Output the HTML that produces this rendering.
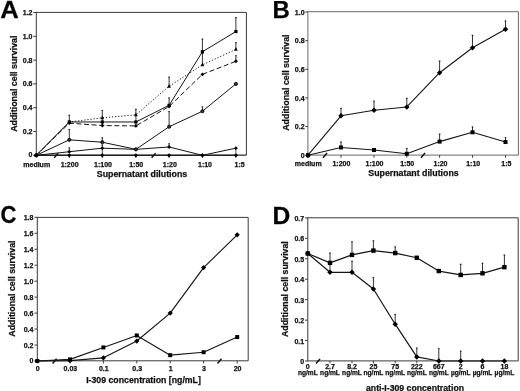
<!DOCTYPE html>
<html><head><meta charset="utf-8"><style>
html,body{margin:0;padding:0;background:#fff;}
body{width:520px;height:391px;overflow:hidden;}
svg{display:block;will-change:transform;}
text{font-family:'Liberation Sans',sans-serif;font-weight:bold;stroke:#111;stroke-width:0.25px;}
</style></head><body>
<svg width="520" height="391" viewBox="0 0 520 391">
<defs><filter id="bl" x="0" y="0" width="1" height="1"><feGaussianBlur stdDeviation="0.3"/></filter></defs>
<rect width="520" height="391" fill="#fff"/>
<g filter="url(#bl)">
<rect width="520" height="391" fill="#fff"/>
<line x1="36.30" y1="12.40" x2="246.40" y2="12.40" stroke="#3a3a3a" stroke-width="1.0"/>
<line x1="246.40" y1="12.40" x2="246.40" y2="155.20" stroke="#3a3a3a" stroke-width="1.0"/>
<line x1="36.30" y1="11.90" x2="36.30" y2="155.70" stroke="#3a3a3a" stroke-width="1.0"/>
<line x1="36.30" y1="155.20" x2="246.40" y2="155.20" stroke="#2a2a2a" stroke-width="1.3"/>
<line x1="235.90" y1="147.80" x2="235.90" y2="155.00" stroke="#333" stroke-width="0.8"/>
<line x1="102.30" y1="117.81" x2="102.30" y2="125.55" stroke="#222" stroke-width="0.85"/>
<line x1="135.90" y1="114.84" x2="135.90" y2="125.91" stroke="#222" stroke-width="0.85"/>
<line x1="102.30" y1="148.16" x2="102.30" y2="155.30" stroke="#222" stroke-width="0.85"/>
<line x1="33.30" y1="155.30" x2="36.30" y2="155.30" stroke="#3a3a3a" stroke-width="1"/>
<text x="32.50" y="157.20" font-size="7" text-anchor="end" fill="#111">0</text>
<line x1="33.30" y1="131.50" x2="36.30" y2="131.50" stroke="#3a3a3a" stroke-width="1"/>
<text x="32.50" y="134.00" font-size="7" text-anchor="end" fill="#111">0.2</text>
<line x1="33.30" y1="107.70" x2="36.30" y2="107.70" stroke="#3a3a3a" stroke-width="1"/>
<text x="32.50" y="110.20" font-size="7" text-anchor="end" fill="#111">0.4</text>
<line x1="33.30" y1="83.90" x2="36.30" y2="83.90" stroke="#3a3a3a" stroke-width="1"/>
<text x="32.50" y="86.40" font-size="7" text-anchor="end" fill="#111">0.6</text>
<line x1="33.30" y1="60.10" x2="36.30" y2="60.10" stroke="#3a3a3a" stroke-width="1"/>
<text x="32.50" y="62.60" font-size="7" text-anchor="end" fill="#111">0.8</text>
<line x1="33.30" y1="36.30" x2="36.30" y2="36.30" stroke="#3a3a3a" stroke-width="1"/>
<text x="32.50" y="38.80" font-size="7" text-anchor="end" fill="#111">1.0</text>
<line x1="33.30" y1="12.50" x2="36.30" y2="12.50" stroke="#3a3a3a" stroke-width="1"/>
<text x="32.50" y="15.00" font-size="7" text-anchor="end" fill="#111">1.2</text>
<text x="36.70" y="166.60" font-size="7" text-anchor="middle" fill="#111">medium</text>
<line x1="69.30" y1="155.20" x2="69.30" y2="157.80" stroke="#3a3a3a" stroke-width="1"/>
<text x="69.60" y="166.60" font-size="7" text-anchor="middle" fill="#111">1:200</text>
<line x1="102.30" y1="155.20" x2="102.30" y2="157.80" stroke="#3a3a3a" stroke-width="1"/>
<text x="103.00" y="166.60" font-size="7" text-anchor="middle" fill="#111">1:100</text>
<line x1="135.90" y1="155.20" x2="135.90" y2="157.80" stroke="#3a3a3a" stroke-width="1"/>
<text x="136.20" y="166.60" font-size="7" text-anchor="middle" fill="#111">1:50</text>
<line x1="169.10" y1="155.20" x2="169.10" y2="157.80" stroke="#3a3a3a" stroke-width="1"/>
<text x="169.80" y="166.60" font-size="7" text-anchor="middle" fill="#111">1:20</text>
<line x1="202.40" y1="155.20" x2="202.40" y2="157.80" stroke="#3a3a3a" stroke-width="1"/>
<text x="205.00" y="166.60" font-size="7" text-anchor="middle" fill="#111">1:10</text>
<line x1="235.90" y1="155.20" x2="235.90" y2="157.80" stroke="#3a3a3a" stroke-width="1"/>
<text x="239.60" y="166.60" font-size="7" text-anchor="middle" fill="#111">1:5</text>
<line x1="54.20" y1="157.80" x2="58.20" y2="153.20" stroke="#111" stroke-width="1.5"/>
<line x1="151.60" y1="157.80" x2="155.60" y2="153.20" stroke="#111" stroke-width="1.5"/>
<text x="142.00" y="177.40" font-size="8.8" text-anchor="middle" fill="#111">Supernatant dilutions</text>
<text x="17.10" y="83.70" font-size="8.85" text-anchor="middle" fill="#111" transform="rotate(-90 17.10 83.70)">Additional cell survival</text>
<polyline points="36.30,155.30 69.30,151.73 102.30,148.16 135.90,149.35 169.10,146.97 202.40,155.30 235.90,148.16" fill="none" stroke="#161616" stroke-width="1.0" stroke-linejoin="round"/>
<line x1="69.30" y1="151.73" x2="69.30" y2="147.56" stroke="#111" stroke-width="0.85"/>
<line x1="68.40" y1="147.97" x2="70.20" y2="147.97" stroke="#111" stroke-width="0.8"/>
<line x1="102.30" y1="148.16" x2="102.30" y2="144.59" stroke="#111" stroke-width="0.85"/>
<line x1="101.40" y1="144.99" x2="103.20" y2="144.99" stroke="#111" stroke-width="0.8"/>
<line x1="169.10" y1="146.97" x2="169.10" y2="143.40" stroke="#111" stroke-width="0.85"/>
<line x1="168.20" y1="143.80" x2="170.00" y2="143.80" stroke="#111" stroke-width="0.8"/>
<path d="M36.30 153.35L38.25 155.30L36.30 157.25L34.35 155.30Z" fill="#000"/>
<path d="M69.30 149.78L71.25 151.73L69.30 153.68L67.35 151.73Z" fill="#000"/>
<path d="M102.30 146.21L104.25 148.16L102.30 150.11L100.35 148.16Z" fill="#000"/>
<path d="M135.90 147.40L137.85 149.35L135.90 151.30L133.95 149.35Z" fill="#000"/>
<path d="M169.10 145.02L171.05 146.97L169.10 148.92L167.15 146.97Z" fill="#000"/>
<path d="M202.40 153.35L204.35 155.30L202.40 157.25L200.45 155.30Z" fill="#000"/>
<path d="M235.90 146.21L237.85 148.16L235.90 150.11L233.95 148.16Z" fill="#000"/>
<polyline points="36.30,155.30 69.30,155.30 102.30,155.30 135.90,155.30 169.10,155.30 202.40,155.30 235.90,155.30" fill="none" stroke="#161616" stroke-width="1.0" stroke-linejoin="round"/>
<path d="M36.30 153.22L38.38 155.30L36.30 157.38L34.22 155.30Z" fill="#000"/>
<path d="M69.30 153.22L71.38 155.30L69.30 157.38L67.22 155.30Z" fill="#000"/>
<path d="M102.30 153.22L104.38 155.30L102.30 157.38L100.22 155.30Z" fill="#000"/>
<path d="M135.90 153.22L137.98 155.30L135.90 157.38L133.82 155.30Z" fill="#000"/>
<path d="M169.10 153.22L171.18 155.30L169.10 157.38L167.02 155.30Z" fill="#000"/>
<path d="M202.40 153.22L204.48 155.30L202.40 157.38L200.32 155.30Z" fill="#000"/>
<path d="M235.90 153.22L237.98 155.30L235.90 157.38L233.82 155.30Z" fill="#000"/>
<polyline points="36.30,155.30 69.30,139.83 102.30,142.21 135.90,149.35 169.10,126.74 202.40,111.27 235.90,83.90" fill="none" stroke="#161616" stroke-width="1.0" stroke-linejoin="round"/>
<line x1="69.30" y1="139.83" x2="69.30" y2="129.12" stroke="#111" stroke-width="0.85"/>
<line x1="68.40" y1="129.52" x2="70.20" y2="129.52" stroke="#111" stroke-width="0.8"/>
<line x1="102.30" y1="142.21" x2="102.30" y2="137.45" stroke="#111" stroke-width="0.85"/>
<line x1="101.40" y1="137.85" x2="103.20" y2="137.85" stroke="#111" stroke-width="0.8"/>
<line x1="169.10" y1="126.74" x2="169.10" y2="111.27" stroke="#111" stroke-width="0.85"/>
<line x1="168.20" y1="111.67" x2="170.00" y2="111.67" stroke="#111" stroke-width="0.8"/>
<line x1="202.40" y1="111.27" x2="202.40" y2="106.51" stroke="#111" stroke-width="0.85"/>
<line x1="201.50" y1="106.91" x2="203.30" y2="106.91" stroke="#111" stroke-width="0.8"/>
<circle cx="36.30" cy="155.30" r="1.60" fill="#333" stroke="#000" stroke-width="0.8"/>
<circle cx="69.30" cy="139.83" r="1.60" fill="#333" stroke="#000" stroke-width="0.8"/>
<circle cx="102.30" cy="142.21" r="1.60" fill="#333" stroke="#000" stroke-width="0.8"/>
<circle cx="135.90" cy="149.35" r="1.60" fill="#333" stroke="#000" stroke-width="0.8"/>
<circle cx="169.10" cy="126.74" r="1.60" fill="#333" stroke="#000" stroke-width="0.8"/>
<circle cx="202.40" cy="111.27" r="1.60" fill="#333" stroke="#000" stroke-width="0.8"/>
<circle cx="235.90" cy="83.90" r="1.60" fill="#333" stroke="#000" stroke-width="0.8"/>
<polyline points="36.30,155.30 69.30,123.17 102.30,125.55 135.90,125.91 169.10,106.51 202.40,74.38 235.90,61.29" fill="none" stroke="#161616" stroke-width="1.0" stroke-dasharray="5,2.6" stroke-linejoin="round"/>
<line x1="235.90" y1="61.29" x2="235.90" y2="55.34" stroke="#111" stroke-width="0.85"/>
<line x1="235.00" y1="55.74" x2="236.80" y2="55.74" stroke="#111" stroke-width="0.8"/>
<path d="M36.30 153.35L38.25 155.30L36.30 157.25L34.35 155.30Z" fill="#000"/>
<path d="M69.30 121.22L71.25 123.17L69.30 125.12L67.35 123.17Z" fill="#000"/>
<path d="M102.30 123.60L104.25 125.55L102.30 127.50L100.35 125.55Z" fill="#000"/>
<path d="M135.90 123.96L137.85 125.91L135.90 127.86L133.95 125.91Z" fill="#000"/>
<path d="M169.10 104.56L171.05 106.51L169.10 108.46L167.15 106.51Z" fill="#000"/>
<path d="M202.40 72.43L204.35 74.38L202.40 76.33L200.45 74.38Z" fill="#000"/>
<path d="M235.90 59.34L237.85 61.29L235.90 63.24L233.95 61.29Z" fill="#000"/>
<polyline points="36.30,155.30 69.30,121.98 102.30,117.81 135.90,114.84 169.10,86.28 202.40,64.86 235.90,49.39" fill="none" stroke="#161616" stroke-width="1.0" stroke-dasharray="1.2,1.9" stroke-linejoin="round"/>
<line x1="102.30" y1="117.81" x2="102.30" y2="110.08" stroke="#111" stroke-width="0.85"/>
<line x1="101.40" y1="110.48" x2="103.20" y2="110.48" stroke="#111" stroke-width="0.8"/>
<line x1="135.90" y1="114.84" x2="135.90" y2="108.89" stroke="#111" stroke-width="0.85"/>
<line x1="135.00" y1="109.29" x2="136.80" y2="109.29" stroke="#111" stroke-width="0.8"/>
<line x1="169.10" y1="86.28" x2="169.10" y2="76.76" stroke="#111" stroke-width="0.85"/>
<line x1="168.20" y1="77.16" x2="170.00" y2="77.16" stroke="#111" stroke-width="0.8"/>
<line x1="202.40" y1="64.86" x2="202.40" y2="52.96" stroke="#111" stroke-width="0.85"/>
<line x1="201.50" y1="53.36" x2="203.30" y2="53.36" stroke="#111" stroke-width="0.8"/>
<line x1="235.90" y1="49.39" x2="235.90" y2="42.25" stroke="#111" stroke-width="0.85"/>
<line x1="235.00" y1="42.65" x2="236.80" y2="42.65" stroke="#111" stroke-width="0.8"/>
<path d="M36.30 153.06L38.14 156.66L34.46 156.66Z" fill="#000"/>
<path d="M69.30 119.74L71.14 123.34L67.46 123.34Z" fill="#000"/>
<path d="M102.30 115.58L104.14 119.17L100.46 119.17Z" fill="#000"/>
<path d="M135.90 112.60L137.74 116.20L134.06 116.20Z" fill="#000"/>
<path d="M169.10 84.04L170.94 87.64L167.26 87.64Z" fill="#000"/>
<path d="M202.40 62.62L204.24 66.22L200.56 66.22Z" fill="#000"/>
<path d="M235.90 47.15L237.74 50.75L234.06 50.75Z" fill="#000"/>
<polyline points="36.30,155.30 69.30,121.98 102.30,121.98 135.90,121.98 169.10,105.32 202.40,51.77 235.90,31.54" fill="none" stroke="#161616" stroke-width="1.0" stroke-linejoin="round"/>
<line x1="69.30" y1="121.98" x2="69.30" y2="114.84" stroke="#111" stroke-width="0.85"/>
<line x1="68.40" y1="115.24" x2="70.20" y2="115.24" stroke="#111" stroke-width="0.8"/>
<line x1="169.10" y1="105.32" x2="169.10" y2="97.59" stroke="#111" stroke-width="0.85"/>
<line x1="168.20" y1="97.99" x2="170.00" y2="97.99" stroke="#111" stroke-width="0.8"/>
<line x1="202.40" y1="51.77" x2="202.40" y2="38.68" stroke="#111" stroke-width="0.85"/>
<line x1="201.50" y1="39.08" x2="203.30" y2="39.08" stroke="#111" stroke-width="0.8"/>
<line x1="235.90" y1="31.54" x2="235.90" y2="17.26" stroke="#111" stroke-width="0.85"/>
<line x1="235.00" y1="17.66" x2="236.80" y2="17.66" stroke="#111" stroke-width="0.8"/>
<rect x="34.70" y="153.70" width="3.20" height="3.20" fill="#000"/>
<rect x="67.70" y="120.38" width="3.20" height="3.20" fill="#000"/>
<rect x="100.70" y="120.38" width="3.20" height="3.20" fill="#000"/>
<rect x="134.30" y="120.38" width="3.20" height="3.20" fill="#000"/>
<rect x="167.50" y="103.72" width="3.20" height="3.20" fill="#000"/>
<rect x="200.80" y="50.17" width="3.20" height="3.20" fill="#000"/>
<rect x="234.30" y="29.94" width="3.20" height="3.20" fill="#000"/>
<line x1="307.90" y1="11.70" x2="518.40" y2="11.70" stroke="#6a6a6a" stroke-width="1.0"/>
<line x1="518.40" y1="11.70" x2="518.40" y2="155.10" stroke="#6a6a6a" stroke-width="1.0"/>
<line x1="307.90" y1="11.20" x2="307.90" y2="155.60" stroke="#6a6a6a" stroke-width="1.0"/>
<line x1="307.90" y1="155.10" x2="518.40" y2="155.10" stroke="#6a6a6a" stroke-width="1.0"/>
<line x1="305.30" y1="155.20" x2="307.90" y2="155.20" stroke="#3a3a3a" stroke-width="1"/>
<text x="304.60" y="157.80" font-size="7" text-anchor="end" fill="#111">0</text>
<line x1="305.30" y1="126.56" x2="307.90" y2="126.56" stroke="#3a3a3a" stroke-width="1"/>
<text x="304.60" y="129.16" font-size="7" text-anchor="end" fill="#111">0.2</text>
<line x1="305.30" y1="97.92" x2="307.90" y2="97.92" stroke="#3a3a3a" stroke-width="1"/>
<text x="304.60" y="100.52" font-size="7" text-anchor="end" fill="#111">0.4</text>
<line x1="305.30" y1="69.28" x2="307.90" y2="69.28" stroke="#3a3a3a" stroke-width="1"/>
<text x="304.60" y="71.88" font-size="7" text-anchor="end" fill="#111">0.6</text>
<line x1="305.30" y1="40.64" x2="307.90" y2="40.64" stroke="#3a3a3a" stroke-width="1"/>
<text x="304.60" y="43.24" font-size="7" text-anchor="end" fill="#111">0.8</text>
<line x1="305.30" y1="12.00" x2="307.90" y2="12.00" stroke="#3a3a3a" stroke-width="1"/>
<text x="304.60" y="14.60" font-size="7" text-anchor="end" fill="#111">1.0</text>
<line x1="308.00" y1="155.10" x2="308.00" y2="157.70" stroke="#3a3a3a" stroke-width="1"/>
<text x="308.20" y="165.90" font-size="7" text-anchor="middle" fill="#111">medium</text>
<line x1="341.00" y1="155.10" x2="341.00" y2="157.70" stroke="#3a3a3a" stroke-width="1"/>
<text x="341.40" y="165.90" font-size="7" text-anchor="middle" fill="#111">1:200</text>
<line x1="374.00" y1="155.10" x2="374.00" y2="157.70" stroke="#3a3a3a" stroke-width="1"/>
<text x="374.50" y="165.90" font-size="7" text-anchor="middle" fill="#111">1:100</text>
<line x1="406.80" y1="155.10" x2="406.80" y2="157.70" stroke="#3a3a3a" stroke-width="1"/>
<text x="407.20" y="165.90" font-size="7" text-anchor="middle" fill="#111">1:50</text>
<line x1="439.60" y1="155.10" x2="439.60" y2="157.70" stroke="#3a3a3a" stroke-width="1"/>
<text x="440.50" y="165.90" font-size="7" text-anchor="middle" fill="#111">1:20</text>
<line x1="472.50" y1="155.10" x2="472.50" y2="157.70" stroke="#3a3a3a" stroke-width="1"/>
<text x="473.20" y="165.90" font-size="7" text-anchor="middle" fill="#111">1:10</text>
<line x1="505.50" y1="155.10" x2="505.50" y2="157.70" stroke="#3a3a3a" stroke-width="1"/>
<text x="506.40" y="165.90" font-size="7" text-anchor="middle" fill="#111">1:5</text>
<line x1="323.00" y1="157.70" x2="327.00" y2="153.10" stroke="#111" stroke-width="1.5"/>
<line x1="421.00" y1="157.70" x2="425.00" y2="153.10" stroke="#111" stroke-width="1.5"/>
<text x="413.50" y="175.60" font-size="8.8" text-anchor="middle" fill="#111">Supernatant dilutions</text>
<text x="288.60" y="82.60" font-size="8.85" text-anchor="middle" fill="#111" transform="rotate(-90 288.60 82.60)">Additional cell survival</text>
<polyline points="308.00,155.20 341.00,147.47 374.00,150.04 406.80,153.77 439.60,141.60 472.50,132.29 505.50,142.03" fill="none" stroke="#161616" stroke-width="1.1" stroke-linejoin="round"/>
<line x1="341.00" y1="147.47" x2="341.00" y2="141.60" stroke="#111" stroke-width="0.85"/>
<line x1="340.10" y1="142.00" x2="341.90" y2="142.00" stroke="#111" stroke-width="0.8"/>
<line x1="406.80" y1="153.77" x2="406.80" y2="148.04" stroke="#111" stroke-width="0.85"/>
<line x1="405.90" y1="148.44" x2="407.70" y2="148.44" stroke="#111" stroke-width="0.8"/>
<line x1="439.60" y1="141.60" x2="439.60" y2="133.72" stroke="#111" stroke-width="0.85"/>
<line x1="438.70" y1="134.12" x2="440.50" y2="134.12" stroke="#111" stroke-width="0.8"/>
<line x1="472.50" y1="132.29" x2="472.50" y2="126.56" stroke="#111" stroke-width="0.85"/>
<line x1="471.60" y1="126.96" x2="473.40" y2="126.96" stroke="#111" stroke-width="0.8"/>
<line x1="505.50" y1="142.03" x2="505.50" y2="137.30" stroke="#111" stroke-width="0.85"/>
<line x1="504.60" y1="137.70" x2="506.40" y2="137.70" stroke="#111" stroke-width="0.8"/>
<rect x="306.00" y="153.20" width="4.00" height="4.00" fill="#000"/>
<rect x="339.00" y="145.47" width="4.00" height="4.00" fill="#000"/>
<rect x="372.00" y="148.04" width="4.00" height="4.00" fill="#000"/>
<rect x="404.80" y="151.77" width="4.00" height="4.00" fill="#000"/>
<rect x="437.60" y="139.60" width="4.00" height="4.00" fill="#000"/>
<rect x="470.50" y="130.29" width="4.00" height="4.00" fill="#000"/>
<rect x="503.50" y="140.03" width="4.00" height="4.00" fill="#000"/>
<polyline points="308.00,155.20 341.00,115.82 374.00,110.24 406.80,106.94 439.60,72.72 472.50,47.80 505.50,29.18" fill="none" stroke="#161616" stroke-width="1.1" stroke-linejoin="round"/>
<line x1="341.00" y1="115.82" x2="341.00" y2="107.94" stroke="#111" stroke-width="0.85"/>
<line x1="340.10" y1="108.34" x2="341.90" y2="108.34" stroke="#111" stroke-width="0.8"/>
<line x1="374.00" y1="110.24" x2="374.00" y2="100.78" stroke="#111" stroke-width="0.85"/>
<line x1="373.10" y1="101.18" x2="374.90" y2="101.18" stroke="#111" stroke-width="0.8"/>
<line x1="406.80" y1="106.94" x2="406.80" y2="97.92" stroke="#111" stroke-width="0.85"/>
<line x1="405.90" y1="98.32" x2="407.70" y2="98.32" stroke="#111" stroke-width="0.8"/>
<line x1="439.60" y1="72.72" x2="439.60" y2="60.69" stroke="#111" stroke-width="0.85"/>
<line x1="438.70" y1="61.09" x2="440.50" y2="61.09" stroke="#111" stroke-width="0.8"/>
<line x1="472.50" y1="47.80" x2="472.50" y2="34.91" stroke="#111" stroke-width="0.85"/>
<line x1="471.60" y1="35.31" x2="473.40" y2="35.31" stroke="#111" stroke-width="0.8"/>
<line x1="505.50" y1="29.18" x2="505.50" y2="20.59" stroke="#111" stroke-width="0.85"/>
<line x1="504.60" y1="20.99" x2="506.40" y2="20.99" stroke="#111" stroke-width="0.8"/>
<path d="M308.00 152.47L310.73 155.20L308.00 157.93L305.27 155.20Z" fill="#000"/>
<path d="M341.00 113.09L343.73 115.82L341.00 118.55L338.27 115.82Z" fill="#000"/>
<path d="M374.00 107.51L376.73 110.24L374.00 112.97L371.27 110.24Z" fill="#000"/>
<path d="M406.80 104.21L409.53 106.94L406.80 109.67L404.07 106.94Z" fill="#000"/>
<path d="M439.60 69.99L442.33 72.72L439.60 75.45L436.87 72.72Z" fill="#000"/>
<path d="M472.50 45.07L475.23 47.80L472.50 50.53L469.77 47.80Z" fill="#000"/>
<path d="M505.50 26.45L508.23 29.18L505.50 31.91L502.77 29.18Z" fill="#000"/>
<line x1="37.30" y1="217.40" x2="248.20" y2="217.40" stroke="#3a3a3a" stroke-width="1.0"/>
<line x1="248.20" y1="217.40" x2="248.20" y2="360.80" stroke="#3a3a3a" stroke-width="1.0"/>
<line x1="37.30" y1="216.90" x2="37.30" y2="361.30" stroke="#3a3a3a" stroke-width="1.0"/>
<line x1="37.30" y1="360.80" x2="248.20" y2="360.80" stroke="#3a3a3a" stroke-width="1.0"/>
<line x1="34.50" y1="361.00" x2="37.30" y2="361.00" stroke="#3a3a3a" stroke-width="1"/>
<text x="33.40" y="363.10" font-size="7" text-anchor="end" fill="#111">0</text>
<line x1="34.50" y1="345.03" x2="37.30" y2="345.03" stroke="#3a3a3a" stroke-width="1"/>
<text x="33.40" y="347.73" font-size="7" text-anchor="end" fill="#111">0.2</text>
<line x1="34.50" y1="329.07" x2="37.30" y2="329.07" stroke="#3a3a3a" stroke-width="1"/>
<text x="33.40" y="331.77" font-size="7" text-anchor="end" fill="#111">0.4</text>
<line x1="34.50" y1="313.10" x2="37.30" y2="313.10" stroke="#3a3a3a" stroke-width="1"/>
<text x="33.40" y="315.80" font-size="7" text-anchor="end" fill="#111">0.6</text>
<line x1="34.50" y1="297.13" x2="37.30" y2="297.13" stroke="#3a3a3a" stroke-width="1"/>
<text x="33.40" y="299.83" font-size="7" text-anchor="end" fill="#111">0.8</text>
<line x1="34.50" y1="281.17" x2="37.30" y2="281.17" stroke="#3a3a3a" stroke-width="1"/>
<text x="33.40" y="283.87" font-size="7" text-anchor="end" fill="#111">1.0</text>
<line x1="34.50" y1="265.20" x2="37.30" y2="265.20" stroke="#3a3a3a" stroke-width="1"/>
<text x="33.40" y="267.90" font-size="7" text-anchor="end" fill="#111">1.2</text>
<line x1="34.50" y1="249.23" x2="37.30" y2="249.23" stroke="#3a3a3a" stroke-width="1"/>
<text x="33.40" y="251.93" font-size="7" text-anchor="end" fill="#111">1.4</text>
<line x1="34.50" y1="233.27" x2="37.30" y2="233.27" stroke="#3a3a3a" stroke-width="1"/>
<text x="33.40" y="235.97" font-size="7" text-anchor="end" fill="#111">1.6</text>
<line x1="34.50" y1="217.30" x2="37.30" y2="217.30" stroke="#3a3a3a" stroke-width="1"/>
<text x="33.40" y="220.00" font-size="7" text-anchor="end" fill="#111">1.8</text>
<text x="37.70" y="371.10" font-size="7" text-anchor="middle" fill="#111">0</text>
<line x1="70.00" y1="360.80" x2="70.00" y2="363.40" stroke="#3a3a3a" stroke-width="1"/>
<text x="70.40" y="371.10" font-size="7" text-anchor="middle" fill="#111">0.03</text>
<line x1="103.40" y1="360.80" x2="103.40" y2="363.40" stroke="#3a3a3a" stroke-width="1"/>
<text x="103.80" y="371.10" font-size="7" text-anchor="middle" fill="#111">0.1</text>
<line x1="136.80" y1="360.80" x2="136.80" y2="363.40" stroke="#3a3a3a" stroke-width="1"/>
<text x="137.20" y="371.10" font-size="7" text-anchor="middle" fill="#111">0.3</text>
<line x1="170.20" y1="360.80" x2="170.20" y2="363.40" stroke="#3a3a3a" stroke-width="1"/>
<text x="170.60" y="371.10" font-size="7" text-anchor="middle" fill="#111">1</text>
<line x1="203.60" y1="360.80" x2="203.60" y2="363.40" stroke="#3a3a3a" stroke-width="1"/>
<text x="204.00" y="371.10" font-size="7" text-anchor="middle" fill="#111">3</text>
<line x1="237.20" y1="360.80" x2="237.20" y2="363.40" stroke="#3a3a3a" stroke-width="1"/>
<text x="237.60" y="371.10" font-size="7" text-anchor="middle" fill="#111">20</text>
<line x1="52.60" y1="363.40" x2="56.60" y2="358.80" stroke="#111" stroke-width="1.5"/>
<line x1="217.50" y1="363.40" x2="221.50" y2="358.80" stroke="#111" stroke-width="1.5"/>
<text x="143.50" y="383.20" font-size="8.75" text-anchor="middle" fill="#111">I-309 concentration [ng/mL]</text>
<text x="15.00" y="288.60" font-size="8.85" text-anchor="middle" fill="#111" transform="rotate(-90 15.00 288.60)">Additional cell survival</text>
<polyline points="37.30,361.00 70.00,359.40 103.40,347.43 136.80,335.45 170.20,355.17 203.60,352.22 237.20,337.05" fill="none" stroke="#161616" stroke-width="1.15" stroke-linejoin="round"/>
<rect x="35.30" y="359.00" width="4.00" height="4.00" fill="#000"/>
<rect x="68.00" y="357.40" width="4.00" height="4.00" fill="#000"/>
<rect x="101.40" y="345.43" width="4.00" height="4.00" fill="#000"/>
<rect x="134.80" y="333.45" width="4.00" height="4.00" fill="#000"/>
<rect x="168.20" y="353.17" width="4.00" height="4.00" fill="#000"/>
<rect x="201.60" y="350.22" width="4.00" height="4.00" fill="#000"/>
<rect x="235.20" y="335.05" width="4.00" height="4.00" fill="#000"/>
<polyline points="37.30,361.00 70.00,360.60 103.40,357.81 136.80,341.04 170.20,313.10 203.60,267.60 237.20,234.86" fill="none" stroke="#161616" stroke-width="1.15" stroke-linejoin="round"/>
<path d="M37.30 358.40L39.90 361.00L37.30 363.60L34.70 361.00Z" fill="#000"/>
<path d="M70.00 358.00L72.60 360.60L70.00 363.20L67.40 360.60Z" fill="#000"/>
<path d="M103.40 355.21L106.00 357.81L103.40 360.41L100.80 357.81Z" fill="#000"/>
<path d="M136.80 338.44L139.40 341.04L136.80 343.64L134.20 341.04Z" fill="#000"/>
<path d="M170.20 310.50L172.80 313.10L170.20 315.70L167.60 313.10Z" fill="#000"/>
<path d="M203.60 265.00L206.20 267.60L203.60 270.20L201.00 267.60Z" fill="#000"/>
<path d="M237.20 232.26L239.80 234.86L237.20 237.46L234.60 234.86Z" fill="#000"/>
<line x1="307.80" y1="217.80" x2="518.20" y2="217.80" stroke="#3a3a3a" stroke-width="1.0"/>
<line x1="518.20" y1="217.80" x2="518.20" y2="360.90" stroke="#3a3a3a" stroke-width="1.0"/>
<line x1="307.80" y1="217.30" x2="307.80" y2="361.40" stroke="#3a3a3a" stroke-width="1.0"/>
<line x1="307.80" y1="360.90" x2="518.20" y2="360.90" stroke="#3a3a3a" stroke-width="1.0"/>
<line x1="305.00" y1="361.00" x2="307.80" y2="361.00" stroke="#3a3a3a" stroke-width="1"/>
<text x="304.20" y="363.60" font-size="7" text-anchor="end" fill="#111">0</text>
<line x1="305.00" y1="340.56" x2="307.80" y2="340.56" stroke="#3a3a3a" stroke-width="1"/>
<text x="304.20" y="343.66" font-size="7" text-anchor="end" fill="#111">0.1</text>
<line x1="305.00" y1="320.11" x2="307.80" y2="320.11" stroke="#3a3a3a" stroke-width="1"/>
<text x="304.20" y="323.21" font-size="7" text-anchor="end" fill="#111">0.2</text>
<line x1="305.00" y1="299.67" x2="307.80" y2="299.67" stroke="#3a3a3a" stroke-width="1"/>
<text x="304.20" y="302.77" font-size="7" text-anchor="end" fill="#111">0.3</text>
<line x1="305.00" y1="279.23" x2="307.80" y2="279.23" stroke="#3a3a3a" stroke-width="1"/>
<text x="304.20" y="282.33" font-size="7" text-anchor="end" fill="#111">0.4</text>
<line x1="305.00" y1="258.79" x2="307.80" y2="258.79" stroke="#3a3a3a" stroke-width="1"/>
<text x="304.20" y="261.89" font-size="7" text-anchor="end" fill="#111">0.5</text>
<line x1="305.00" y1="238.34" x2="307.80" y2="238.34" stroke="#3a3a3a" stroke-width="1"/>
<text x="304.20" y="241.44" font-size="7" text-anchor="end" fill="#111">0.6</text>
<line x1="305.00" y1="217.90" x2="307.80" y2="217.90" stroke="#3a3a3a" stroke-width="1"/>
<text x="304.20" y="221.00" font-size="7" text-anchor="end" fill="#111">0.7</text>
<text x="307.80" y="369.20" font-size="7" text-anchor="middle" fill="#111">0</text>
<text x="307.80" y="375.20" font-size="6.6" text-anchor="middle" fill="#111">ng/mL</text>
<line x1="330.00" y1="360.90" x2="330.00" y2="363.30" stroke="#3a3a3a" stroke-width="1"/>
<text x="330.00" y="369.20" font-size="7" text-anchor="middle" fill="#111">2.7</text>
<text x="330.00" y="375.20" font-size="6.6" text-anchor="middle" fill="#111">ng/mL</text>
<line x1="352.00" y1="360.90" x2="352.00" y2="363.30" stroke="#3a3a3a" stroke-width="1"/>
<text x="352.00" y="369.20" font-size="7" text-anchor="middle" fill="#111">8.2</text>
<text x="352.00" y="375.20" font-size="6.6" text-anchor="middle" fill="#111">ng/mL</text>
<line x1="373.40" y1="360.90" x2="373.40" y2="363.30" stroke="#3a3a3a" stroke-width="1"/>
<text x="373.40" y="369.20" font-size="7" text-anchor="middle" fill="#111">25</text>
<text x="373.40" y="375.20" font-size="6.6" text-anchor="middle" fill="#111">ng/mL</text>
<line x1="395.20" y1="360.90" x2="395.20" y2="363.30" stroke="#3a3a3a" stroke-width="1"/>
<text x="395.20" y="369.20" font-size="7" text-anchor="middle" fill="#111">75</text>
<text x="395.20" y="375.20" font-size="6.6" text-anchor="middle" fill="#111">ng/mL</text>
<line x1="416.80" y1="360.90" x2="416.80" y2="363.30" stroke="#3a3a3a" stroke-width="1"/>
<text x="416.80" y="369.20" font-size="7" text-anchor="middle" fill="#111">222</text>
<text x="416.80" y="375.20" font-size="6.6" text-anchor="middle" fill="#111">ng/mL</text>
<line x1="438.80" y1="360.90" x2="438.80" y2="363.30" stroke="#3a3a3a" stroke-width="1"/>
<text x="438.80" y="369.20" font-size="7" text-anchor="middle" fill="#111">667</text>
<text x="438.80" y="375.20" font-size="6.6" text-anchor="middle" fill="#111">ng/mL</text>
<line x1="460.70" y1="360.90" x2="460.70" y2="363.30" stroke="#3a3a3a" stroke-width="1"/>
<text x="460.70" y="369.20" font-size="7" text-anchor="middle" fill="#111">2</text>
<text x="460.70" y="375.20" font-size="6.6" text-anchor="middle" fill="#111">µg/mL</text>
<line x1="482.50" y1="360.90" x2="482.50" y2="363.30" stroke="#3a3a3a" stroke-width="1"/>
<text x="482.50" y="369.20" font-size="7" text-anchor="middle" fill="#111">6</text>
<text x="482.50" y="375.20" font-size="6.6" text-anchor="middle" fill="#111">µg/mL</text>
<line x1="504.40" y1="360.90" x2="504.40" y2="363.30" stroke="#3a3a3a" stroke-width="1"/>
<text x="504.40" y="369.20" font-size="7" text-anchor="middle" fill="#111">18</text>
<text x="504.40" y="375.20" font-size="6.6" text-anchor="middle" fill="#111">µg/mL</text>
<line x1="316.00" y1="363.50" x2="320.00" y2="358.90" stroke="#111" stroke-width="1.5"/>
<text x="415.00" y="390.50" font-size="8.7" text-anchor="middle" fill="#111">anti-I-309 concentration</text>
<text x="288.40" y="289.10" font-size="8.8" text-anchor="middle" fill="#111" transform="rotate(-90 288.40 289.10)">Additional cell survival</text>
<polyline points="307.80,253.47 330.00,272.28 352.00,272.28 373.40,289.04 395.20,324.20 416.80,356.91 438.80,361.00 460.70,361.00 482.50,361.00 504.40,361.00" fill="none" stroke="#161616" stroke-width="1.2" stroke-linejoin="round"/>
<line x1="330.00" y1="272.28" x2="330.00" y2="263.90" stroke="#111" stroke-width="0.85"/>
<line x1="329.10" y1="264.30" x2="330.90" y2="264.30" stroke="#111" stroke-width="0.8"/>
<line x1="352.00" y1="272.28" x2="352.00" y2="260.83" stroke="#111" stroke-width="0.85"/>
<line x1="351.10" y1="261.23" x2="352.90" y2="261.23" stroke="#111" stroke-width="0.8"/>
<line x1="373.40" y1="289.04" x2="373.40" y2="277.18" stroke="#111" stroke-width="0.85"/>
<line x1="372.50" y1="277.58" x2="374.30" y2="277.58" stroke="#111" stroke-width="0.8"/>
<line x1="395.20" y1="324.20" x2="395.20" y2="313.98" stroke="#111" stroke-width="0.85"/>
<line x1="394.30" y1="314.38" x2="396.10" y2="314.38" stroke="#111" stroke-width="0.8"/>
<line x1="416.80" y1="356.91" x2="416.80" y2="347.71" stroke="#111" stroke-width="0.85"/>
<line x1="415.90" y1="348.11" x2="417.70" y2="348.11" stroke="#111" stroke-width="0.8"/>
<line x1="438.80" y1="361.00" x2="438.80" y2="348.33" stroke="#111" stroke-width="0.85"/>
<line x1="437.90" y1="348.73" x2="439.70" y2="348.73" stroke="#111" stroke-width="0.8"/>
<line x1="460.70" y1="361.00" x2="460.70" y2="350.78" stroke="#111" stroke-width="0.85"/>
<line x1="459.80" y1="351.18" x2="461.60" y2="351.18" stroke="#111" stroke-width="0.8"/>
<path d="M307.80 250.74L310.53 253.47L307.80 256.20L305.07 253.47Z" fill="#000"/>
<path d="M330.00 269.55L332.73 272.28L330.00 275.01L327.27 272.28Z" fill="#000"/>
<path d="M352.00 269.55L354.73 272.28L352.00 275.01L349.27 272.28Z" fill="#000"/>
<path d="M373.40 286.31L376.13 289.04L373.40 291.77L370.67 289.04Z" fill="#000"/>
<path d="M395.20 321.47L397.93 324.20L395.20 326.93L392.47 324.20Z" fill="#000"/>
<path d="M416.80 354.18L419.53 356.91L416.80 359.64L414.07 356.91Z" fill="#000"/>
<path d="M438.80 358.27L441.53 361.00L438.80 363.73L436.07 361.00Z" fill="#000"/>
<path d="M460.70 358.27L463.43 361.00L460.70 363.73L457.97 361.00Z" fill="#000"/>
<path d="M482.50 358.27L485.23 361.00L482.50 363.73L479.77 361.00Z" fill="#000"/>
<path d="M504.40 358.27L507.13 361.00L504.40 363.73L501.67 361.00Z" fill="#000"/>
<polyline points="307.80,253.47 330.00,262.87 352.00,254.90 373.40,250.61 395.20,253.06 416.80,257.76 438.80,271.05 460.70,274.94 482.50,273.30 504.40,267.17" fill="none" stroke="#161616" stroke-width="1.2" stroke-linejoin="round"/>
<line x1="330.00" y1="262.87" x2="330.00" y2="252.65" stroke="#111" stroke-width="0.85"/>
<line x1="329.10" y1="253.05" x2="330.90" y2="253.05" stroke="#111" stroke-width="0.8"/>
<line x1="352.00" y1="254.90" x2="352.00" y2="241.41" stroke="#111" stroke-width="0.85"/>
<line x1="351.10" y1="241.81" x2="352.90" y2="241.81" stroke="#111" stroke-width="0.8"/>
<line x1="373.40" y1="250.61" x2="373.40" y2="240.39" stroke="#111" stroke-width="0.85"/>
<line x1="372.50" y1="240.79" x2="374.30" y2="240.79" stroke="#111" stroke-width="0.8"/>
<line x1="395.20" y1="253.06" x2="395.20" y2="246.52" stroke="#111" stroke-width="0.85"/>
<line x1="394.30" y1="246.92" x2="396.10" y2="246.92" stroke="#111" stroke-width="0.8"/>
<line x1="460.70" y1="274.94" x2="460.70" y2="263.90" stroke="#111" stroke-width="0.85"/>
<line x1="459.80" y1="264.30" x2="461.60" y2="264.30" stroke="#111" stroke-width="0.8"/>
<line x1="482.50" y1="273.30" x2="482.50" y2="262.87" stroke="#111" stroke-width="0.85"/>
<line x1="481.60" y1="263.27" x2="483.40" y2="263.27" stroke="#111" stroke-width="0.8"/>
<line x1="504.40" y1="267.17" x2="504.40" y2="254.70" stroke="#111" stroke-width="0.85"/>
<line x1="503.50" y1="255.10" x2="505.30" y2="255.10" stroke="#111" stroke-width="0.8"/>
<rect x="305.60" y="251.27" width="4.40" height="4.40" fill="#000"/>
<rect x="327.80" y="260.67" width="4.40" height="4.40" fill="#000"/>
<rect x="349.80" y="252.70" width="4.40" height="4.40" fill="#000"/>
<rect x="371.20" y="248.41" width="4.40" height="4.40" fill="#000"/>
<rect x="393.00" y="250.86" width="4.40" height="4.40" fill="#000"/>
<rect x="414.60" y="255.56" width="4.40" height="4.40" fill="#000"/>
<rect x="436.60" y="268.85" width="4.40" height="4.40" fill="#000"/>
<rect x="458.50" y="272.74" width="4.40" height="4.40" fill="#000"/>
<rect x="480.30" y="271.10" width="4.40" height="4.40" fill="#000"/>
<rect x="502.20" y="264.97" width="4.40" height="4.40" fill="#000"/>
<text x="0.30" y="17.60" font-size="24" text-anchor="start" fill="#000" transform="translate(0.30 17.60) scale(1.07 1) translate(-0.30 -17.60)">A</text>
<text x="272.60" y="17.50" font-size="24" text-anchor="start" fill="#000">B</text>
<text x="0.50" y="223.20" font-size="23" text-anchor="start" fill="#000" transform="translate(0.50 223.20) scale(0.96 1) translate(-0.50 -223.20)">C</text>
<text x="272.40" y="223.60" font-size="23" text-anchor="start" fill="#000" transform="translate(272.40 223.60) scale(1.07 1) translate(-272.40 -223.60)">D</text>
</g>
</svg>
</body></html>
